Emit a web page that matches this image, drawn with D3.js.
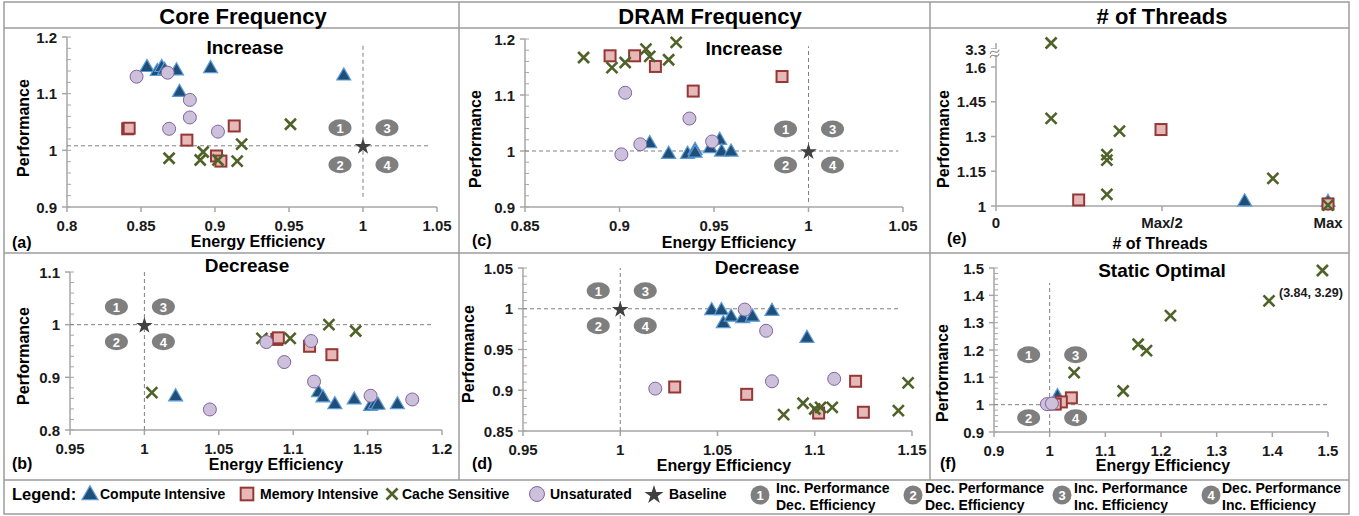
<!DOCTYPE html>
<html><head><meta charset="utf-8">
<script src="https://cdn.jsdelivr.net/npm/d3@7"></script>
<style>
body{margin:0;background:#fff}
svg text{font-family:"Liberation Sans",Arial,sans-serif}
</style></head><body>
<svg id="chart" width="1359" height="516"></svg>
<script>
// ---------- data ----------
var seriesKeys = ["compute", "memory", "cache", "unsat", "star"];
var seriesNames = ["Compute Intensive", "Memory Intensive", "Cache Sensitive", "Unsaturated", "Baseline"];
var quadNames = [["Inc. Performance", "Dec. Efficiency"], ["Dec. Performance", "Dec. Efficiency"],
                 ["Inc. Performance", "Inc. Efficiency"], ["Dec. Performance", "Inc. Efficiency"]];
var groupTitles = ["Core Frequency", "DRAM Frequency", "# of Threads"];

// (a) core frequency, increase  [energy efficiency, performance]
var aCompute = [[0.854,1.148],[0.861,1.141],[0.864,1.148],[0.866,1.143],[0.874,1.142],[0.876,1.104],[0.897,1.146],[0.987,1.133]];
var aMemory  = [[0.841,1.038],[0.842,1.039],[0.881,1.018],[0.913,1.043],[0.901,0.990],[0.904,0.981]];
var aCache   = [[0.869,0.986],[0.890,0.983],[0.892,0.997],[0.902,0.983],[0.915,0.981],[0.918,1.011],[0.951,1.046]];
var aUnsat   = [[0.847,1.130],[0.868,1.137],[0.883,1.089],[0.883,1.058],[0.869,1.038],[0.902,1.033]];
var aBase    = [[1.0,1.008]];

// (b) core frequency, decrease
var bCompute = [[1.021,0.865],[1.117,0.873],[1.120,0.863],[1.128,0.850],[1.141,0.859],[1.152,0.847],[1.155,0.850],[1.157,0.849],[1.170,0.850]];
var bMemory  = [[1.089,0.972],[1.090,0.975],[1.111,0.959],[1.126,0.943]];
var bCache   = [[1.005,0.871],[1.079,0.974],[1.098,0.974],[1.124,1.000],[1.142,0.988]];
var bUnsat   = [[1.082,0.967],[1.094,0.929],[1.112,0.969],[1.114,0.892],[1.044,0.839],[1.152,0.865],[1.180,0.858]];
var bBase    = [[1.0,1.0]];

// (c) DRAM frequency, increase
var cCompute = [[0.916,1.015],[0.926,0.996],[0.936,0.996],[0.940,1.003],[0.940,0.998],[0.948,1.006],[0.953,1.021],[0.954,1.000],[0.959,1.000]];
var cMemory  = [[0.895,1.170],[0.908,1.170],[0.919,1.151],[0.939,1.107],[0.986,1.133]];
var cCache   = [[0.881,1.167],[0.896,1.149],[0.903,1.158],[0.914,1.182],[0.916,1.169],[0.926,1.163],[0.930,1.194]];
var cUnsat   = [[0.903,1.104],[0.937,1.058],[0.911,1.012],[0.901,0.994],[0.949,1.017]];
var cBase    = [[1.0,1.0]];

// (d) DRAM frequency, decrease
var dCompute = [[1.047,0.999],[1.052,0.999],[1.053,0.983],[1.057,0.991],[1.063,0.989],[1.068,0.991],[1.078,0.998],[1.096,0.965]];
var dMemory  = [[1.028,0.904],[1.065,0.895],[1.102,0.872],[1.121,0.911],[1.125,0.873]];
var dCache   = [[1.084,0.870],[1.094,0.884],[1.100,0.877],[1.103,0.879],[1.109,0.879],[1.143,0.875],[1.148,0.909]];
var dUnsat   = [[1.064,0.999],[1.075,0.973],[1.018,0.902],[1.078,0.911],[1.110,0.914]];
var dBase    = [[1.0,1.0]];

// (e) number of threads  [fraction of max threads, performance]
var eCompute = [[0.749,1.022],[1.0,1.020]];
var eMemory  = [[0.249,1.026],[0.497,1.330],[1.0,1.009]];
var eCache   = [[0.166,3.4],[0.166,1.378],[0.372,1.323],[0.334,1.222],[0.334,1.198],[0.334,1.050],[0.834,1.119],[1.0,1.004]];
var eUnsat   = [];
var eXLabels = ["0", "Max/2", "Max"];

// (f) static optimal
var fCompute = [[1.014,1.033],[1.008,1.005]];
var fMemory  = [[1.039,1.025],[1.021,1.010],[1.010,1.002]];
var fCache   = [[1.490,1.491],[1.394,1.380],[1.217,1.326],[1.159,1.221],[1.174,1.198],[1.132,1.050],[1.044,1.117]];
var fUnsat   = [[0.995,1.002],[1.004,1.004]];
var fNote    = "(3.84, 3.29)";

// dashed reference lines  [from, to, at]
var aRef = {h:[0.8,1.045,1.008], v:[0.918,1.185,1.0]};
var bRef = {h:[0.95,1.193,1.0], v:[0.8,1.1,1.0]};
var cRef = {h:[0.85,1.0475,1.0], v:[0.909,1.187,1.0]};
var dRef = {h:[0.95,1.144,1.0], v:[0.85,1.05,1.0]};
var fRef = {h:[0.9,1.5,1.0], v:[0.9,1.445,1.0]};

// ---------- styles ----------
var FRAME = "#9c9c9c", AXIS = "#a6a6a6", DASH = "#808080", BADGE = "#7f7f7f";
var svg = d3.select("#chart");

function drawMark(g, type, px, py, big) {
  var k = big ? 1.15 : 1;
  if (type === "compute") {
    g.append("path").attr("d", d3.symbol(d3.symbolTriangle, 85 * k * k)())
      .attr("transform", "translate(" + px + "," + (py + 1) + ")")
      .attr("fill", "#1f4e79").attr("stroke", "#5b9bd5").attr("stroke-width", 1.2);
  } else if (type === "memory") {
    var s = 11 * k;
    g.append("rect").attr("x", px - s / 2).attr("y", py - s / 2).attr("width", s).attr("height", s)
      .attr("fill", "#e6b9b8").attr("stroke", "#953735").attr("stroke-width", 2);
  } else if (type === "cache") {
    var r = 5.5;
    g.append("path").attr("d", "M" + (px - r) + "," + (py - r) + "L" + (px + r) + "," + (py + r) +
        "M" + (px - r) + "," + (py + r) + "L" + (px + r) + "," + (py - r))
      .attr("stroke", "#4f6228").attr("stroke-width", 2.6).attr("fill", "none");
  } else if (type === "unsat") {
    g.append("circle").attr("cx", px).attr("cy", py).attr("r", 6.5 * k)
      .attr("fill", "#ccc0da").attr("stroke", "#8064a2").attr("stroke-width", 1);
  } else if (type === "star") {
    g.append("path").attr("d", d3.symbol(d3.symbolStar, 85 * k * k)())
      .attr("transform", "translate(" + px + "," + (py + 1) + ")").attr("fill", "#404040");
  }
}

function badge(g, n, cx, cy, rx, ry) {
  g.append("ellipse").attr("cx", cx).attr("cy", cy).attr("rx", rx).attr("ry", ry).attr("fill", BADGE);
  g.append("text").attr("x", cx).attr("y", cy + 5).attr("text-anchor", "middle")
    .attr("fill", "#fff").attr("font-weight", "bold").attr("font-size", 13).text(n);
}

function fmt(v) { return String(+v.toFixed(2)); }

function drawPanel(p) {
  var g = svg.append("g");
  var xs = d3.scaleLinear().domain(p.xd).range(p.x);
  var ys = p.yScale || d3.scaleLinear().domain(p.yd).range(p.y);
  var x0 = p.x[0], yb = p.y[0];

  // axes
  g.append("line").attr("x1", x0).attr("x2", x0).attr("y1", yb).attr("y2", p.yTop || p.y[1])
    .attr("stroke", AXIS).attr("stroke-width", 1.5);
  g.append("line").attr("x1", x0).attr("x2", p.xEnd || p.x[1]).attr("y1", yb).attr("y2", yb)
    .attr("stroke", AXIS).attr("stroke-width", 1.5);
  if (p.minor) {
    d3.range(p.yd[0], p.yd[1] + 1e-9, p.minor).forEach(function (v) {
      g.append("line").attr("x1", x0).attr("x2", x0 + 4).attr("y1", ys(v)).attr("y2", ys(v))
        .attr("stroke", AXIS).attr("stroke-width", 1);
    });
  }
  p.yt.forEach(function (v, i) {
    var yy = ys(v);
    g.append("line").attr("x1", x0 - 5).attr("x2", x0).attr("y1", yy).attr("y2", yy)
      .attr("stroke", AXIS).attr("stroke-width", 1.5);
    g.append("text").attr("x", x0 - 10).attr("y", yy + 5.5).attr("text-anchor", "end")
      .attr("font-size", 15).attr("font-weight", "bold").attr("fill", "#1a1a1a")
      .text(p.yLabels ? p.yLabels[i] : fmt(v));
  });
  p.xt.forEach(function (v, i) {
    var xx = xs(v);
    g.append("line").attr("x1", xx).attr("x2", xx).attr("y1", yb).attr("y2", yb + 5)
      .attr("stroke", AXIS).attr("stroke-width", 1.5);
    g.append("text").attr("x", xx).attr("y", yb + (p.xLabelDy || 24)).attr("text-anchor", "middle")
      .attr("font-size", 15).attr("font-weight", "bold").attr("fill", "#1a1a1a")
      .text(p.xLabels ? p.xLabels[i] : fmt(v));
  });

  // axis titles and panel label
  g.append("text").attr("transform", "translate(" + (p.yTitle[0] + 5.5) + "," + p.yTitle[1] + ") rotate(-90)")
    .attr("text-anchor", "middle").attr("font-size", 16).attr("font-weight", "bold").text("Performance");
  g.append("text").attr("x", p.xTitle[0]).attr("y", p.xTitle[1]).attr("text-anchor", "middle")
    .attr("font-size", 16).attr("font-weight", "bold").text(p.xTitleText || "Energy Efficiency");
  g.append("text").attr("x", p.tag[0]).attr("y", p.tag[1])
    .attr("font-size", 16).attr("font-weight", "bold").text("(" + p.id + ")");
  if (p.sub) {
    g.append("text").attr("x", p.sub[1]).attr("y", p.sub[2]).attr("text-anchor", "middle")
      .attr("font-size", 19).attr("font-weight", "bold").text(p.sub[0]);
  }

  // dashed quadrant lines
  if (p.ref) {
    g.append("line").attr("x1", xs(p.ref.h[0])).attr("x2", xs(p.ref.h[1]))
      .attr("y1", ys(p.ref.h[2])).attr("y2", ys(p.ref.h[2]))
      .attr("stroke", DASH).attr("stroke-width", 1).attr("stroke-dasharray", "4,3");
    g.append("line").attr("x1", xs(p.ref.v[2])).attr("x2", xs(p.ref.v[2]))
      .attr("y1", ys(p.ref.v[0])).attr("y2", ys(p.ref.v[1]))
      .attr("stroke", DASH).attr("stroke-width", 1).attr("stroke-dasharray", "4,3");
    var cx = xs(p.ref.v[2]), cy = ys(p.ref.h[2]), o = p.badge;
    badge(g, "1", cx + o[0], cy + o[2], 11.5, 8.5);
    badge(g, "3", cx + o[1], cy + o[2], 11.5, 8.5);
    badge(g, "2", cx + o[0], cy + o[3], 11.5, 8.5);
    badge(g, "4", cx + o[1], cy + o[3], 11.5, 8.5);
  }

  // marks
  seriesKeys.forEach(function (k) {
    (p.data[k] || []).forEach(function (d) { drawMark(g, k, xs(d[0]), ys(d[1])); });
  });
  return {g: g, xs: xs, ys: ys};
}

// ---------- panels ----------
drawPanel({id: "a", x: [67, 437], y: [207, 37], xd: [0.8, 1.05], yd: [0.9, 1.2],
  xt: [0.8, 0.85, 0.9, 0.95, 1, 1.05], yt: [0.9, 1, 1.1, 1.2], minor: 0.02,
  yTitle: [23, 128], xTitle: [258, 247], tag: [12, 248], sub: ["Increase", 245, 54],
  ref: aRef, badge: [-23, 24, -18, 19],
  data: {compute: aCompute, memory: aMemory, cache: aCache, unsat: aUnsat, star: aBase}});

drawPanel({id: "b", x: [70, 442], y: [430, 272], xd: [0.95, 1.2], yd: [0.8, 1.1],
  xt: [0.95, 1, 1.05, 1.1, 1.15, 1.2], yt: [0.8, 0.9, 1, 1.1], minor: 0.02,
  yTitle: [23, 356], xTitle: [276, 470], tag: [12, 469], sub: ["Decrease", 247, 272],
  ref: bRef, badge: [-28, 19, -18, 17],
  data: {compute: bCompute, memory: bMemory, cache: bCache, unsat: bUnsat, star: bBase}});

drawPanel({id: "c", x: [525, 903], y: [207, 39], xd: [0.85, 1.05], yd: [0.9, 1.2],
  xt: [0.85, 0.9, 0.95, 1, 1.05], yt: [0.9, 1, 1.1, 1.2], minor: 0.02,
  yTitle: [475, 139], xTitle: [729, 248], tag: [472, 246], sub: ["Increase", 744, 55],
  ref: cRef, badge: [-23, 24, -22, 14],
  data: {compute: cCompute, memory: cMemory, cache: cCache, unsat: cUnsat, star: cBase}});

drawPanel({id: "d", x: [523, 912], y: [431, 268], xd: [0.95, 1.15], yd: [0.85, 1.05],
  xt: [0.95, 1, 1.05, 1.1, 1.15], yt: [0.85, 0.9, 0.95, 1, 1.05], minor: 0.01,
  yTitle: [468, 354], xTitle: [724, 471], tag: [472, 469], sub: ["Decrease", 757, 274],
  ref: dRef, badge: [-22, 25, -18, 17],
  data: {compute: dCompute, memory: dMemory, cache: dCache, unsat: dUnsat, star: dBase}});

var eYScale = d3.scaleLinear().domain([1, 1.6, 3.3, 3.4]).range([206, 67, 49, 43]);
var pe = drawPanel({id: "e", x: [996, 1328], y: [206, 43], xd: [0, 1], yd: [1, 3.4],
  yScale: eYScale, yTop: 43, xEnd: 1335, xLabelDy: 22,
  xt: [0, 0.5, 1], xLabels: eXLabels, yt: [1, 1.15, 1.3, 1.45, 1.6, 3.3],
  yTitle: [943, 139], xTitle: [1160, 249], xTitleText: "# of Threads", tag: [947, 244],
  data: {compute: eCompute, memory: eMemory, cache: eCache, unsat: eUnsat}});
// axis break marks
pe.g.append("rect").attr("x", 990).attr("y", 49).attr("width", 12).attr("height", 6).attr("fill", "#fff");
[50, 54].forEach(function (yy) {
  pe.g.append("path").attr("d", "M989," + (yy + 1) + " q2.5,-3 5,0 t5,0")
    .attr("transform", "rotate(-25,996," + yy + ")")
    .attr("fill", "none").attr("stroke", "#8c8c8c").attr("stroke-width", 1.1);
});

var pf = drawPanel({id: "f", x: [994, 1328], y: [432, 268], xd: [0.9, 1.5], yd: [0.9, 1.5],
  xt: [0.9, 1, 1.1, 1.2, 1.3, 1.4, 1.5], yt: [0.9, 1, 1.1, 1.2, 1.3, 1.4, 1.5], minor: 0.02,
  yTitle: [942, 373], xTitle: [1163, 471], tag: [940, 469], sub: ["Static Optimal", 1162, 277],
  ref: fRef, badge: [-21, 26, -50, 13],
  data: {compute: fCompute, memory: fMemory, cache: fCache, unsat: fUnsat}});
pf.g.append("text").attr("x", pf.xs(fCache[1][0]) + 10).attr("y", pf.ys(fCache[1][1]) - 4)
  .attr("font-size", 12.5).attr("font-weight", "bold").attr("fill", "#1a1a1a").text(fNote);

// ---------- frame ----------
var frame = svg.append("g").attr("stroke", FRAME).attr("stroke-width", 1.5).attr("fill", "none");
frame.append("rect").attr("x", 4).attr("y", 2).attr("width", 1345).attr("height", 512);
[28, 253, 480].forEach(function (yy) {
  frame.append("line").attr("x1", 4).attr("x2", 1349).attr("y1", yy).attr("y2", yy);
});
[459, 930].forEach(function (xx) {
  frame.append("line").attr("x1", xx).attr("x2", xx).attr("y1", 2).attr("y2", 480);
});
var headerX = [243, 710, 1162];
groupTitles.forEach(function (t, i) {
  svg.append("text").attr("x", headerX[i]).attr("y", 24).attr("text-anchor", "middle")
    .attr("font-size", 22).attr("font-weight", "bold").text(t);
});

// ---------- legend ----------
var lg = svg.append("g");
lg.append("text").attr("x", 12).attr("y", 500).attr("font-size", 16.5).attr("font-weight", "bold").text("Legend:");
var markX = [90, 247, 392, 537, 654], textX = [100, 260, 402, 550, 669];
seriesKeys.forEach(function (k, i) {
  drawMark(lg, k, markX[i], 494, true);
  lg.append("text").attr("x", textX[i]).attr("y", 499).attr("font-size", 14).attr("font-weight", "bold")
    .text(seriesNames[i]);
});
var qBadgeX = [760, 913, 1062, 1211], qTextX = [776, 925, 1074, 1222];
quadNames.forEach(function (lines, i) {
  badge(lg, String(i + 1), qBadgeX[i], 495, 9.5, 9.5);
  lines.forEach(function (t, j) {
    lg.append("text").attr("x", qTextX[i]).attr("y", 493 + j * 17).attr("font-size", 14)
      .attr("font-weight", "bold").text(t);
  });
});
</script>
</body></html>
